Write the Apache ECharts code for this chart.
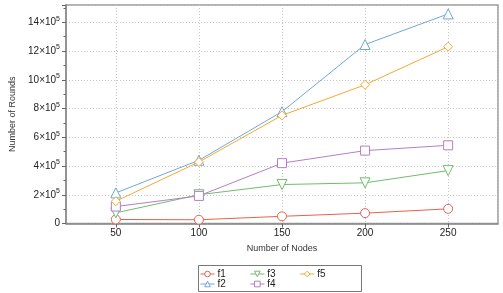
<!DOCTYPE html>
<html><head><meta charset="utf-8">
<script src="https://cdn.jsdelivr.net/npm/echarts@6/dist/echarts.min.js"></script>
<style>html,body{margin:0;padding:0;background:#fff}#c{width:503px;height:293px}</style>
</head><body><div id="c"></div>
<script>
var nodes = [50, 100, 150, 200, 250];
var f1 = [28000, 26000, 50000, 72000, 102000];
var f2 = [213000, 440000, 778000, 1245000, 1458000];
var f3 = [74000, 200000, 271000, 283000, 368000];
var f4 = [118000, 192000, 420000, 507000, 544000];
var f5 = [155000, 428000, 752000, 965000, 1230000];
var names = ['f1', 'f2', 'f3', 'f4', 'f5'];
var colors = ['#e8604c', '#6fa8d6', '#6dbf6a', '#b47ec8', '#f5a733'];
var downTri = 'path://M0,0 L10,0 L5,9 Z';
var symbols = ['circle', 'triangle', downTri, 'rect', 'diamond'];
var sizes = [9, 10, 10, 9, 9];
var allData = [f1, f2, f3, f4, f5];
var font = 'Liberation Sans, Arial, sans-serif';

var chart = echarts.init(document.getElementById('c'), null, {renderer: 'canvas'});
var series = names.map(function (n, i) {
  return {
    name: n, type: 'line',
    data: nodes.map(function (x, j) { return [x, allData[i][j]]; }),
    symbol: symbols[i], symbolSize: sizes[i],
    showAllSymbol: true,
    lineStyle: {color: colors[i], width: 1},
    itemStyle: {color: '#fff', borderColor: colors[i], borderWidth: 1},
    z: 2 + i
  };
});
var legendBase = {
  orient: 'horizontal', itemWidth: 14, itemHeight: 7, itemGap: 24,
  textStyle: {fontFamily: font, fontSize: 10, color: '#222', padding: [0, 0, 0, -2]},
  itemStyle: {borderWidth: 1},
  lineStyle: {width: 1},
  padding: 0
};
chart.setOption({
  animation: false,
  grid: {left: 58, right: 5, top: 5, bottom: 69.5, show: true, borderColor: '#999', borderWidth: 1.5},
  xAxis: {
    type: 'value', min: 20, max: 280, splitNumber: 5,
    name: 'Number of Nodes', nameLocation: 'middle', nameGap: 21,
    nameTextStyle: {fontFamily: font, fontSize: 9, color: '#333'},
    axisLine: {show: true, lineStyle: {color: '#888', width: 1.5}},
    axisTick: {show: true, inside: false, length: 4, lineStyle: {color: '#666'}},
    axisLabel: {showMinLabel: false, showMaxLabel: false, fontFamily: font, fontSize: 10, color: '#222', margin: 5},
    splitLine: {show: true, lineStyle: {color: '#c4c4c4', type: [1, 2], width: 1}}
  },
  yAxis: {
    type: 'value', min: 0, max: 1520000, interval: 200000,
    name: 'Number of Rounds', nameLocation: 'middle', nameGap: 49, nameRotate: 90,
    nameTextStyle: {fontFamily: font, fontSize: 9, color: '#333'},
    axisLine: {show: true, lineStyle: {color: '#888', width: 1.5}},
    axisTick: {show: true, inside: false, length: 4, lineStyle: {color: '#666'}},
    minorTick: {show: true, splitNumber: 2, length: 2.5, lineStyle: {color: '#666'}},
    axisLabel: {
      showMaxLabel: false,
      fontFamily: font, fontSize: 10, color: '#222', margin: 6,
      formatter: function (v) {
        if (v === 0) return '0';
        return '{b|' + (v / 100000) + '×10}{s|5}';
      },
      rich: {
        b: {fontFamily: font, fontSize: 10, color: '#222'},
        s: {fontFamily: font, fontSize: 7, color: '#222', verticalAlign: 'top', padding: [0, 0, 7, 0]}
      }
    },
    splitLine: {show: true, lineStyle: {color: '#c4c4c4', type: [1, 2], width: 1}}
  },
  legend: [
    Object.assign({}, legendBase, {left: 200, top: 269, data: ['f1', 'f3', 'f5']}),
    Object.assign({}, legendBase, {left: 200, top: 279, data: ['f2', 'f4']})
  ],
  graphic: [{
    type: 'rect', shape: {x: 198.5, y: 265.5, width: 163, height: 26},
    style: {fill: 'none', stroke: '#777', lineWidth: 1}, silent: true
  }],
  series: series
});
</script></body></html>
